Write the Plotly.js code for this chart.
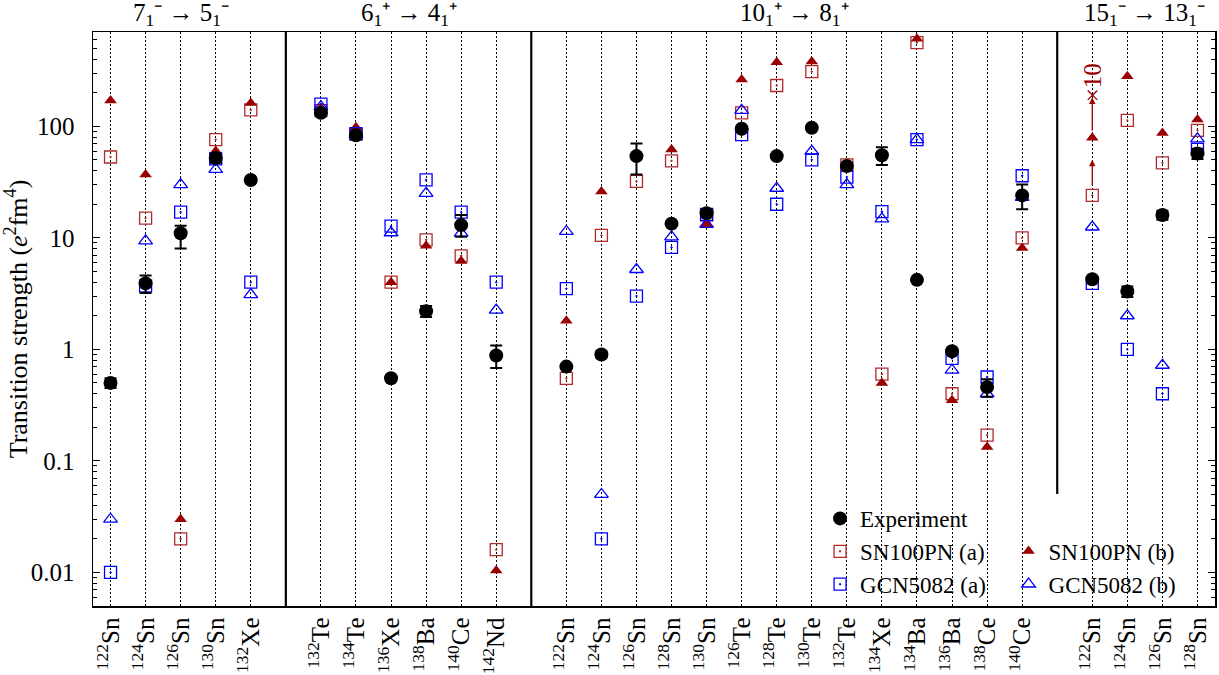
<!DOCTYPE html>
<html>
<head>
<meta charset="utf-8">
<script src="https://cdn.plot.ly/plotly-3.0.1.min.js"></script>
<style>html,body{margin:0;padding:0;background:#fff;}#chart{width:1219px;height:675px;}</style>
</head>
<body>
<div id="chart"></div>
<script>
// ---- data ----
const transitions = [
  '7<sub>1</sub>⁻ → 5<sub>1</sub>⁻',
  '6<sub>1</sub>⁺ → 4<sub>1</sub>⁺',
  '10<sub>1</sub>⁺ → 8<sub>1</sub>⁺',
  '15<sub>1</sub>⁻ → 13<sub>1</sub>⁻'
];
const groupSizes = [5, 6, 14, 4];
const massNumbers = [122,124,126,130,132, 132,134,136,138,140,142, 122,124,126,128,130,126,128,130,132,134,134,136,138,140, 122,124,126,128];
const elements = ['Sn','Sn','Sn','Sn','Xe', 'Te','Te','Xe','Ba','Ce','Nd', 'Sn','Sn','Sn','Sn','Sn','Te','Te','Te','Te','Xe','Ba','Ba','Ce','Ce', 'Sn','Sn','Sn','Sn'];

const expValues   = [0.5, 3.9, 11, 52, 33,   132, 83, 0.55, 2.2, 13, 0.88,   0.7, 0.9, 54, 13.4, 16.6, 95, 54, 97, 44, 55, 4.2, 0.96, 0.46, 24,   4.25, 3.3, 16, 57];
const expErrPlus  = [0.05, 0.7, 1.8, 5, 0,   0, 0, 0, 0.25, 3, 0.2,   0, 0.06, 16, 0, 0, 0, 0, 0, 0, 10, 0, 0, 0.08, 6,   0, 0.35, 1.5, 6];
const expErrMinus = [0.05, 0.7, 3, 5, 0,     0, 0, 0, 0.25, 2.8, 0.2, 0, 0.06, 17, 0, 0, 0, 0, 0, 0, 10, 0, 0, 0.085, 6, 0, 0.35, 1.5, 6];
const sn100pnA = [53, 15, 0.02, 76, 140,   138, 85, 4.0, 9.6, 6.9, 0.016,   0.55, 10.5, 32, 49, 16, 132, 232, 309, 45, 0.6, 563, 0.4, 0.17, 10,   24, 113, 47, 92];
const sn100pnB = [170, 37, 0.03, 60, 162,  146, 98, 4.0, 8.5, 6.2, 0.0104,  1.8, 26, null, 62, 13.2, 262, 375, 380, null, 0.5, 610, 0.35, 0.133, 8.1,   79, 281, 87, 115];
const gcn5082A = [0.01, 3.7, 17, 51, 4.0,  158, 86, 12.7, 33, 17, 4.0,   3.5, 0.02, 3.0, 8.2, 16.2, 84, 20, 50, 35, 17.2, 76, 0.83, 0.565, 36,   3.9, 1.0, 0.4, 62];
const gcn5082B = [0.03, 9.4, 30, 41, 3.1,  150, 84, 11.1, 25, 11, 2.25,  11.4, 0.05, 5.2, 10.2, 13.2, 139, 27.8, 59.7, 30, 14.8, 76, 0.65, 0.40, 23,   12.5, 2.0, 0.72, 77];
const scaledGroup = 3;   // transition group whose first point is scaled (x10)
const scaleLabel = '×10';

// ---- positions: categories in groups separated by one empty slot ----
const xs = [];
const groupStart = [];
let idx = 0;
groupSizes.forEach((n, g) => {
  groupStart.push(xs.length);
  for (let i = 0; i < n; i++) { xs.push(idx); idx++; }
  idx++;
});
const tickText = massNumbers.map((m, i) => '<sup>' + m + '</sup>' + elements[i]);

const FONT = 'Liberation Serif, Times New Roman, serif';
const FS = 25;
const LFS = 23;
const RED = '#9a0000';
const RED_SQ = '#b02a2a';
const BLUE = '#0000ff';

const traces = [
  {x: xs, y: sn100pnA, name: 'SN100PN (a)', mode: 'markers', type: 'scatter', legendrank: 2,
   marker: {symbol: 'square-open-dot', size: 12, color: RED_SQ, line: {width: 1.3, color: RED_SQ}}},
  {x: xs, y: sn100pnB, name: 'SN100PN (b)', mode: 'markers', type: 'scatter', legend: 'legend2', legendrank: 1,
   marker: {symbol: 'triangle-up', size: 11, color: RED}},
  {x: xs, y: gcn5082A, name: 'GCN5082 (a)', mode: 'markers', type: 'scatter', legendrank: 3,
   marker: {symbol: 'square-open-dot', size: 12, color: BLUE, line: {width: 1.3, color: BLUE}}},
  {x: xs, y: gcn5082B, name: 'GCN5082 (b)', mode: 'markers', type: 'scatter', legend: 'legend2', legendrank: 2,
   marker: {symbol: 'triangle-up-open', size: 12, color: BLUE, line: {width: 1.3, color: BLUE}}},
  {x: xs, y: expValues, name: 'Experiment', mode: 'markers', type: 'scatter', legendrank: 1,
   error_y: {type: 'data', symmetric: false, array: expErrPlus, arrayminus: expErrMinus, color: 'black', thickness: 2, width: 6},
   marker: {symbol: 'circle', size: 14, color: 'black'}}
];

// separators between groups
const shapes = groupStart.slice(1).map(s => ({
  type: 'line', xref: 'x', yref: 'paper', x0: xs[s] - 1, x1: xs[s] - 1, y0: 0, y1: 1,
  line: {color: 'black', width: 2.2}, layer: 'below'
}));
// white backing for the legend area
shapes.push({type: 'rect', xref: 'paper', yref: 'paper', x0: 0.634, x1: 1, y0: 0, y1: 0.195,
  fillcolor: 'white', line: {width: 0}, layer: 'between'});

const annotations = transitions.map((t, g) => {
  const a = xs[groupStart[g]], b = xs[groupStart[g] + groupSizes[g] - 1];
  return {x: (a + b) / 2, xref: 'x', y: 1, yref: 'paper', yanchor: 'bottom', yshift: 0,
    text: t, showarrow: false, font: {family: FONT, size: FS, color: 'black'}};
});
// scaled-value arrows
const sx = xs[groupStart[scaledGroup]];
const sqLog = Math.log10(sn100pnA[groupStart[scaledGroup]]);
const trLog = Math.log10(sn100pnB[groupStart[scaledGroup]]);
annotations.push({x: sx, y: sqLog + 0.32, xref: 'x', yref: 'y', ax: sx, ay: sqLog + 0.08, axref: 'x', ayref: 'y',
  showarrow: true, arrowhead: 2, arrowsize: 1, arrowwidth: 1.3, arrowcolor: RED, text: ''});
annotations.push({x: sx, y: trLog + 0.36, xref: 'x', yref: 'y', ax: sx, ay: trLog + 0.05, axref: 'x', ayref: 'y',
  showarrow: true, arrowhead: 2, arrowsize: 1, arrowwidth: 1.3, arrowcolor: RED, text: ''});
annotations.push({x: sx, y: trLog + 0.49, xref: 'x', yref: 'y', text: scaleLabel, textangle: -90, showarrow: false,
  font: {family: FONT, size: FS, color: RED}});

const layout = {
  width: 1219, height: 675,
  margin: {l: 93, r: 4, t: 32, b: 69},
  paper_bgcolor: 'white', plot_bgcolor: 'white',
  font: {family: FONT, size: FS, color: 'black'},
  xaxis: {
    range: [-0.5, xs[xs.length - 1] + 0.5], tickmode: 'array', tickvals: xs, ticktext: tickText,
    tickangle: -90, ticks: '', showgrid: true, gridcolor: 'black', griddash: '2px,2px', gridwidth: 1,
    showline: true, mirror: true, linecolor: 'black', linewidth: 1.5, zeroline: false,
    tickfont: {family: FONT, size: FS}
  },
  yaxis: {
    type: 'log', range: [Math.log10(0.005), Math.log10(700)],
    tickmode: 'array', tickvals: [0.01, 0.1, 1, 10, 100], ticktext: ['0.01', '0.1', '1', '10', '100'],
    ticks: 'inside', ticklen: 7, tickwidth: 1, tickcolor: 'black',
    minor: {ticks: 'inside', ticklen: 4, tickwidth: 1, dtick: 'D1', showgrid: false, tickcolor: 'black'},
    showgrid: false, showline: true, mirror: 'allticks', linecolor: 'black', linewidth: 1.5, zeroline: false,
    ticklabelstandoff: 12, tickfont: {family: FONT, size: FS},
    title: {text: 'Transition strength (<i>e</i><sup>2</sup>fm<sup>4</sup>)', font: {family: FONT, size: 26}, standoff: 0}
  },
  showlegend: true,
  legend: {x: 0.648, y: 0.19, xanchor: 'left', yanchor: 'top', bgcolor: 'rgba(0,0,0,0)',
    font: {family: FONT, size: LFS}, traceorder: 'normal', tracegroupgap: 0},
  legend2: {x: 0.816, y: 0.133, xanchor: 'left', yanchor: 'top', bgcolor: 'rgba(0,0,0,0)',
    font: {family: FONT, size: LFS}, traceorder: 'normal', tracegroupgap: 0},
  shapes: shapes,
  annotations: annotations
};

Plotly.newPlot('chart', traces, layout, {displayModeBar: false, staticPlot: true});
</script>
</body>
</html>
